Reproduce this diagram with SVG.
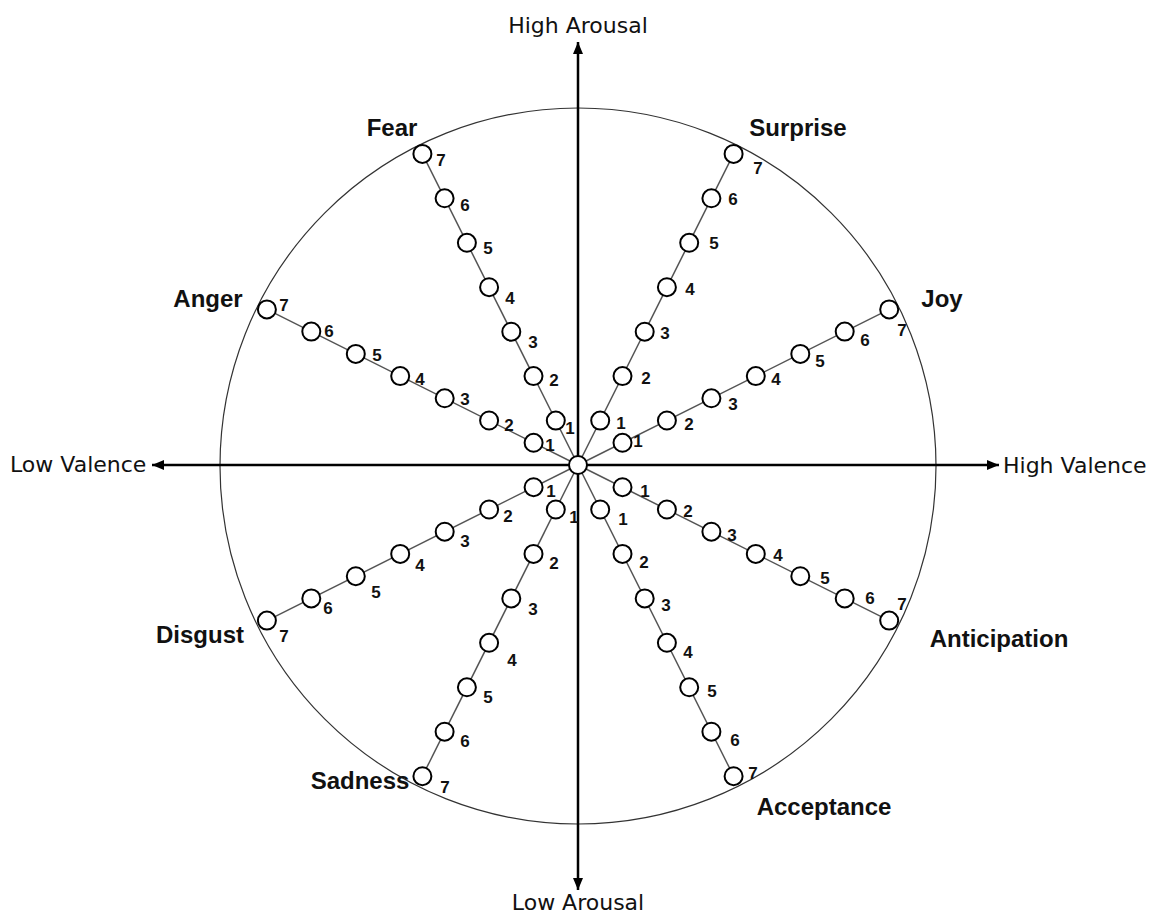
<svg xmlns="http://www.w3.org/2000/svg" width="1160" height="915" viewBox="0 0 1160 915">
<style>
.spoke{stroke:#555;stroke-width:1.5;fill:none}
.axis{stroke:#000;stroke-width:2.5;fill:none}
.ring{stroke:#333;stroke-width:1.2;fill:none}
.n{fill:#fff;stroke:#000;stroke-width:2}
.d{font-family:"Liberation Sans",Arial,sans-serif;font-weight:bold;font-size:17px;fill:#111;text-anchor:middle}
.e{font-family:"Liberation Sans",Arial,sans-serif;font-weight:bold;font-size:24px;fill:#111;text-anchor:middle}
.ax{font-family:"DejaVu Sans",Verdana,sans-serif;font-size:22px;fill:#111}
</style>
<defs>
<marker id="arr" viewBox="0 0 12 10" refX="12" refY="5" markerWidth="12" markerHeight="10" markerUnits="userSpaceOnUse" orient="auto-start-reverse">
<path d="M0,0 L12,5 L0,10 z" fill="#000"/>
</marker>
</defs>
<rect width="1160" height="915" fill="#fff"/>
<circle class="ring" cx="578" cy="466" r="358"/>
<g id="connectors">
<line class="spoke" x1="578" y1="465" x2="422.4" y2="153.9"/>
<line class="spoke" x1="578" y1="465" x2="733.6" y2="153.9"/>
<line class="spoke" x1="578" y1="465" x2="889.2" y2="309.4"/>
<line class="spoke" x1="578" y1="465" x2="266.9" y2="309.4"/>
<line class="spoke" x1="578" y1="465" x2="889.2" y2="620.6"/>
<line class="spoke" x1="578" y1="465" x2="266.9" y2="620.6"/>
<line class="spoke" x1="578" y1="465" x2="422.4" y2="776.2"/>
<line class="spoke" x1="578" y1="465" x2="733.6" y2="776.2"/>
<line class="axis" x1="152" y1="465" x2="999" y2="465" marker-start="url(#arr)" marker-end="url(#arr)"/>
<line class="axis" x1="578" y1="42" x2="578" y2="890" marker-start="url(#arr)" marker-end="url(#arr)"/>
</g>
<g id="center"><circle class="n" cx="578" cy="465" r="9"/></g>
<g id="axis-labels">
<text class="ax" x="578" y="33" text-anchor="middle">High Arousal</text>
<text class="ax" x="578" y="910" text-anchor="middle">Low Arousal</text>
<text class="ax" x="10" y="472">Low Valence</text>
<text class="ax" x="1003" y="473">High Valence</text>
</g>
<g id="emotion-labels">
<text class="e" x="392" y="136">Fear</text>
<text class="e" x="798" y="136">Surprise</text>
<text class="e" x="942" y="307">Joy</text>
<text class="e" x="208" y="307">Anger</text>
<text class="e" x="200" y="643">Disgust</text>
<text class="e" x="999" y="647">Anticipation</text>
<text class="e" x="360" y="789">Sadness</text>
<text class="e" x="824" y="815">Acceptance</text>
</g>
<g id="fear">
<g id="fear-1"><circle class="n" cx="555.8" cy="420.6" r="9"/><text class="d" x="570" y="434">1</text></g>
<g id="fear-2"><circle class="n" cx="533.5" cy="376.1" r="9"/><text class="d" x="554" y="386">2</text></g>
<g id="fear-3"><circle class="n" cx="511.3" cy="331.7" r="9"/><text class="d" x="533" y="348">3</text></g>
<g id="fear-4"><circle class="n" cx="489.1" cy="287.2" r="9"/><text class="d" x="510" y="304">4</text></g>
<g id="fear-5"><circle class="n" cx="466.9" cy="242.8" r="9"/><text class="d" x="488" y="254">5</text></g>
<g id="fear-6"><circle class="n" cx="444.6" cy="198.3" r="9"/><text class="d" x="465" y="211">6</text></g>
<g id="fear-7"><circle class="n" cx="422.4" cy="153.9" r="9"/><text class="d" x="441" y="166">7</text></g>
</g>
<g id="surprise">
<g id="surprise-1"><circle class="n" cx="600.2" cy="420.6" r="9"/><text class="d" x="621" y="429">1</text></g>
<g id="surprise-2"><circle class="n" cx="622.5" cy="376.1" r="9"/><text class="d" x="646" y="384">2</text></g>
<g id="surprise-3"><circle class="n" cx="644.7" cy="331.7" r="9"/><text class="d" x="665" y="339">3</text></g>
<g id="surprise-4"><circle class="n" cx="666.9" cy="287.2" r="9"/><text class="d" x="690" y="295">4</text></g>
<g id="surprise-5"><circle class="n" cx="689.2" cy="242.8" r="9"/><text class="d" x="714" y="249">5</text></g>
<g id="surprise-6"><circle class="n" cx="711.4" cy="198.3" r="9"/><text class="d" x="733" y="205">6</text></g>
<g id="surprise-7"><circle class="n" cx="733.6" cy="153.9" r="9"/><text class="d" x="758" y="174">7</text></g>
</g>
<g id="joy">
<g id="joy-1"><circle class="n" cx="622.5" cy="442.8" r="9"/><text class="d" x="638" y="447">1</text></g>
<g id="joy-2"><circle class="n" cx="666.9" cy="420.5" r="9"/><text class="d" x="689" y="430">2</text></g>
<g id="joy-3"><circle class="n" cx="711.4" cy="398.3" r="9"/><text class="d" x="733" y="410">3</text></g>
<g id="joy-4"><circle class="n" cx="755.8" cy="376.1" r="9"/><text class="d" x="776" y="385">4</text></g>
<g id="joy-5"><circle class="n" cx="800.3" cy="353.9" r="9"/><text class="d" x="820" y="367">5</text></g>
<g id="joy-6"><circle class="n" cx="844.7" cy="331.6" r="9"/><text class="d" x="865" y="346">6</text></g>
<g id="joy-7"><circle class="n" cx="889.2" cy="309.4" r="9"/><text class="d" x="902" y="336">7</text></g>
</g>
<g id="anger">
<g id="anger-1"><circle class="n" cx="533.6" cy="442.8" r="9"/><text class="d" x="550" y="451">1</text></g>
<g id="anger-2"><circle class="n" cx="489.1" cy="420.5" r="9"/><text class="d" x="509" y="431">2</text></g>
<g id="anger-3"><circle class="n" cx="444.7" cy="398.3" r="9"/><text class="d" x="465" y="405">3</text></g>
<g id="anger-4"><circle class="n" cx="400.2" cy="376.1" r="9"/><text class="d" x="420" y="385">4</text></g>
<g id="anger-5"><circle class="n" cx="355.8" cy="353.9" r="9"/><text class="d" x="377" y="361">5</text></g>
<g id="anger-6"><circle class="n" cx="311.3" cy="331.6" r="9"/><text class="d" x="329" y="337">6</text></g>
<g id="anger-7"><circle class="n" cx="266.9" cy="309.4" r="9"/><text class="d" x="284" y="311">7</text></g>
</g>
<g id="anticipation">
<g id="anticipation-1"><circle class="n" cx="622.5" cy="487.2" r="9"/><text class="d" x="645" y="497">1</text></g>
<g id="anticipation-2"><circle class="n" cx="666.9" cy="509.5" r="9"/><text class="d" x="688" y="517">2</text></g>
<g id="anticipation-3"><circle class="n" cx="711.4" cy="531.7" r="9"/><text class="d" x="732" y="541">3</text></g>
<g id="anticipation-4"><circle class="n" cx="755.8" cy="553.9" r="9"/><text class="d" x="778" y="561">4</text></g>
<g id="anticipation-5"><circle class="n" cx="800.3" cy="576.2" r="9"/><text class="d" x="825" y="584">5</text></g>
<g id="anticipation-6"><circle class="n" cx="844.7" cy="598.4" r="9"/><text class="d" x="870" y="604">6</text></g>
<g id="anticipation-7"><circle class="n" cx="889.2" cy="620.6" r="9"/><text class="d" x="902" y="610">7</text></g>
</g>
<g id="disgust">
<g id="disgust-1"><circle class="n" cx="533.6" cy="487.2" r="9"/><text class="d" x="551" y="497">1</text></g>
<g id="disgust-2"><circle class="n" cx="489.1" cy="509.5" r="9"/><text class="d" x="508" y="522">2</text></g>
<g id="disgust-3"><circle class="n" cx="444.7" cy="531.7" r="9"/><text class="d" x="465" y="547">3</text></g>
<g id="disgust-4"><circle class="n" cx="400.2" cy="553.9" r="9"/><text class="d" x="420" y="571">4</text></g>
<g id="disgust-5"><circle class="n" cx="355.8" cy="576.2" r="9"/><text class="d" x="376" y="598">5</text></g>
<g id="disgust-6"><circle class="n" cx="311.3" cy="598.4" r="9"/><text class="d" x="328" y="614">6</text></g>
<g id="disgust-7"><circle class="n" cx="266.9" cy="620.6" r="9"/><text class="d" x="284" y="642">7</text></g>
</g>
<g id="sadness">
<g id="sadness-1"><circle class="n" cx="555.8" cy="509.5" r="9"/><text class="d" x="574" y="523">1</text></g>
<g id="sadness-2"><circle class="n" cx="533.5" cy="553.9" r="9"/><text class="d" x="554" y="569">2</text></g>
<g id="sadness-3"><circle class="n" cx="511.3" cy="598.4" r="9"/><text class="d" x="533" y="615">3</text></g>
<g id="sadness-4"><circle class="n" cx="489.1" cy="642.8" r="9"/><text class="d" x="512" y="666">4</text></g>
<g id="sadness-5"><circle class="n" cx="466.9" cy="687.3" r="9"/><text class="d" x="488" y="703">5</text></g>
<g id="sadness-6"><circle class="n" cx="444.6" cy="731.7" r="9"/><text class="d" x="465" y="747">6</text></g>
<g id="sadness-7"><circle class="n" cx="422.4" cy="776.2" r="9"/><text class="d" x="445" y="793">7</text></g>
</g>
<g id="acceptance">
<g id="acceptance-1"><circle class="n" cx="600.2" cy="509.5" r="9"/><text class="d" x="623" y="525">1</text></g>
<g id="acceptance-2"><circle class="n" cx="622.5" cy="553.9" r="9"/><text class="d" x="644" y="568">2</text></g>
<g id="acceptance-3"><circle class="n" cx="644.7" cy="598.4" r="9"/><text class="d" x="666" y="611">3</text></g>
<g id="acceptance-4"><circle class="n" cx="666.9" cy="642.8" r="9"/><text class="d" x="688" y="658">4</text></g>
<g id="acceptance-5"><circle class="n" cx="689.2" cy="687.3" r="9"/><text class="d" x="712" y="697">5</text></g>
<g id="acceptance-6"><circle class="n" cx="711.4" cy="731.7" r="9"/><text class="d" x="735" y="746">6</text></g>
<g id="acceptance-7"><circle class="n" cx="733.6" cy="776.2" r="9"/><text class="d" x="753" y="779">7</text></g>
</g>
</svg>
